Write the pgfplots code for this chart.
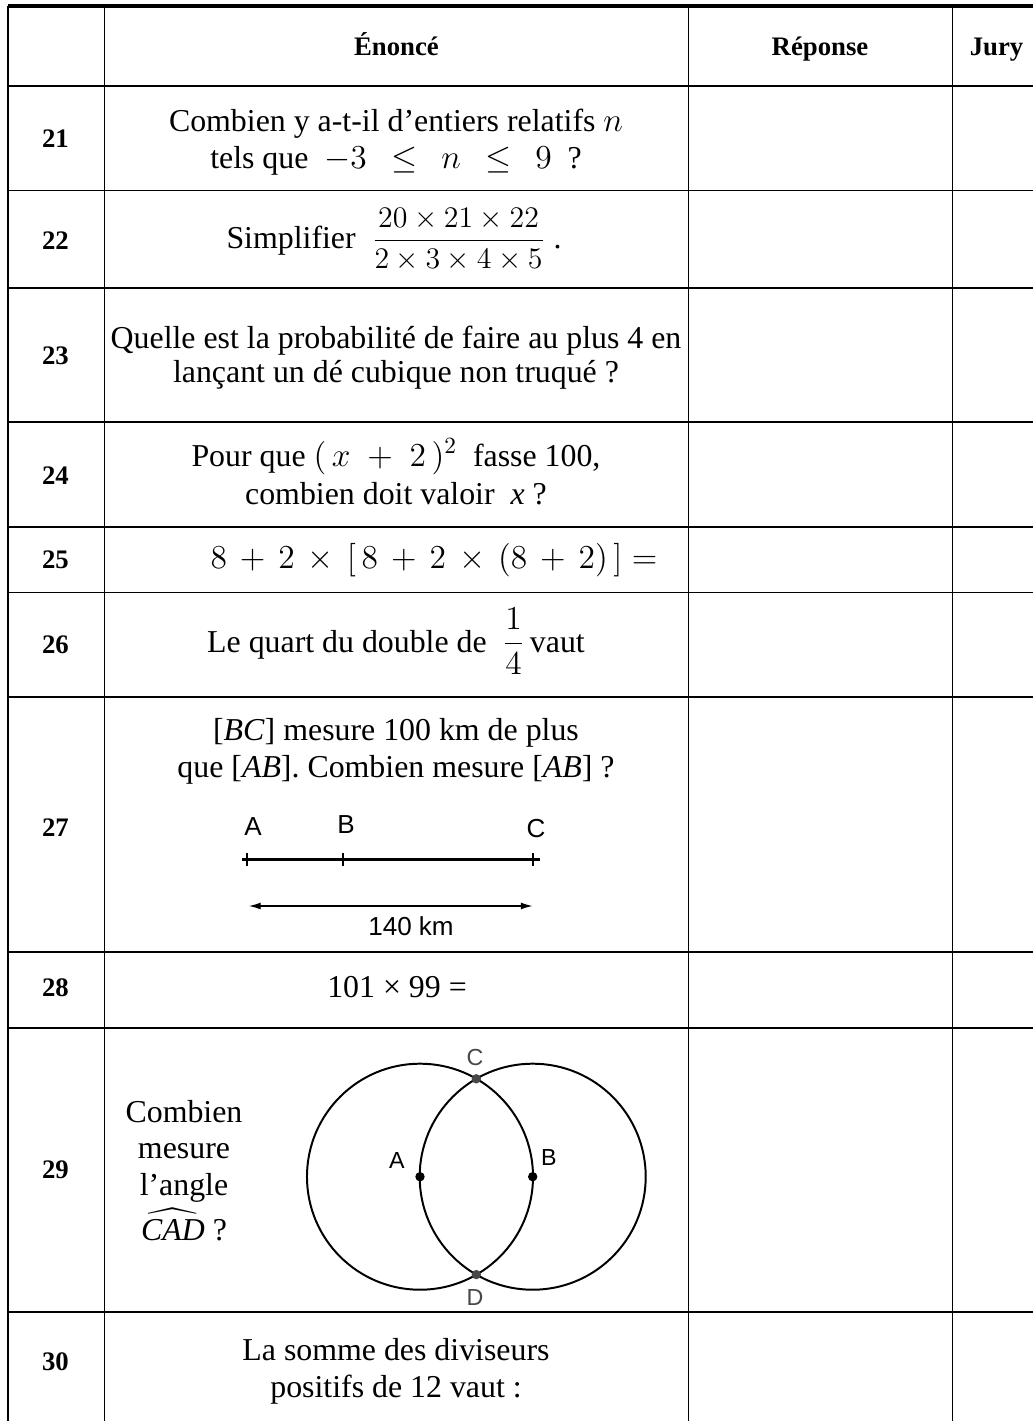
\documentclass[border=0pt]{standalone}
\usepackage{amsmath}
\usepackage{pgfplots}
\pgfplotsset{compat=1.18}
\usepackage{fontspec}
\setmainfont{Liberation Serif}
\newfontfamily\arial{Liberation Sans}
\usetikzlibrary{arrows.meta}

% 1 px of the reference = 0.43pt
\newcommand{\hd}{\fontsize{11.5}{13}\selectfont\bfseries}
\newcommand{\lab}{\arial\fontsize{11.2}{13}\selectfont}
\newcommand{\labc}{\arial\fontsize{10}{12}\selectfont}

\begin{document}
\fontsize{13.7}{16}\selectfont
\begin{tikzpicture}
\begin{axis}[
    hide axis,
    scale only axis,
    width=444.19pt, height=611.03pt,
    xmin=0, xmax=1033, ymin=0, ymax=1421,
    y dir=reverse,
    clip=false,
]
% table rules
\addplot[black, line width=1.4pt] coordinates {(7.5,6) (1033,6)};
\pgfplotsinvokeforeach{86,190.5,288,422,527,592.5,697,952,1028,1312}{
  \addplot[black, line width=0.85pt] coordinates {(7.6,#1) (1033,#1)};
}
\pgfplotsinvokeforeach{8,104.5,688.5,952.5}{
  \addplot[black, line width=0.85pt] coordinates {(#1,5.5) (#1,1421)};
}

% header
\node[anchor=base, font=\hd] at (396.5,55) {Énoncé};
\node[anchor=base, font=\hd] at (820,55) {Réponse};
\node[anchor=base, font=\hd] at (996.5,55) {Jury};

% row numbers
\node[font=\hd] at (55.5,139) {21};
\node[font=\hd] at (55.5,241) {22};
\node[font=\hd] at (55.5,356) {23};
\node[font=\hd] at (55.5,476) {24};
\node[font=\hd] at (55.5,560) {25};
\node[font=\hd] at (55.5,645) {26};
\node[font=\hd] at (55.5,828) {27};
\node[font=\hd] at (55.5,988) {28};
\node[font=\hd] at (55.5,1170) {29};
\node[font=\hd] at (55.5,1362) {30};

% 21
\node[anchor=base] at (396,131) {Combien y a-t-il d’entiers relatifs $n$};
\node[anchor=base] at (396,168) {tels que \ $-3\;\,\leq\;\,n\;\,\leq\;\,9$\ \ ?};
% 22
\node[anchor=base] at (394,248) {Simplifier \ {\fontsize{12}{14}\selectfont\scalebox{1.07}{$\dfrac{20\times21\times22}{2\times3\times4\times5}$}}\ .};
% 23
\node[anchor=base] at (396,348) {Quelle est la probabilité de faire au plus 4 en};
\node[anchor=base] at (396,382) {lançant un dé cubique non truqué ?};
% 24
\node[anchor=base] at (396,466) {Pour que $(\,x\;+\;2\,)^2$\ \ fasse 100,};
\node[anchor=base] at (396,504) {combien doit valoir \ \textit{x} ?};
% 25
\node[anchor=base] at (434,568) {$8\,+\,2\,\times\,[\,8\,+\,2\,\times\,(8\,+\,2)\,]=$};
% 26
\node[anchor=base] at (396,652) {Le quart du double de \ $\dfrac{1}{4}$\,vaut};
% 27
\node[anchor=base] at (396,740) {[\textit{BC}] mesure 100 km de plus};
\node[anchor=base] at (396,777) {que [\textit{AB}]. Combien mesure [\textit{AB}] ?};
\addplot[black, line width=1.3pt] coordinates {(242,859.3) (540,859.3)};
\addplot[black, only marks, mark=|, mark size=2.7pt, mark options={line width=1pt}]
  coordinates {(247,859.3) (343,859.3) (533,859.3)};
\addplot[black, line width=0.5pt, {Latex[length=5pt,width=3pt]}-{Latex[length=5pt,width=3pt]}]
  coordinates {(249,906) (532.5,906)};
\node[font=\lab] at (253,827) {A};
\node[font=\lab] at (346,825) {B};
\node[font=\lab] at (536,829) {C};
\node[font=\lab] at (411,926) {140 km};
% 28
\node[anchor=base] at (397,997) {101 × 99 =};
% 29
\node[anchor=base, inner sep=0pt] at (184,1122) {Combien};
\node[anchor=base, inner sep=0pt] at (184,1158) {mesure};
\node[anchor=base, inner sep=0pt, text depth=0pt] at (184,1195) {l’angle};
\node[anchor=base, inner sep=0pt] at (184,1240) {$\smash{\widehat{\mbox{\itshape CAD}}}$ ?};
\draw[black, line width=0.85pt] (420,1176.7) circle[radius=48.6pt];
\draw[black, line width=0.85pt] (532.7,1176.7) circle[radius=48.6pt];
\addplot[black, only marks, mark=*, mark size=1.8pt] coordinates {(420,1176.7) (532.7,1176.7)};
\addplot[black!72, only marks, mark=*, mark size=1.8pt, mark options={draw=black!72}]
  coordinates {(476.3,1078.8) (476.3,1274.6)};
\node[font=\labc] at (397,1160) {A};
\node[font=\labc] at (549,1157) {B};
\node[font=\labc, text=black!72] at (475,1057) {C};
\node[font=\labc, text=black!72] at (475,1297) {D};
% 30
\node[anchor=base] at (396,1360) {La somme des diviseurs};
\node[anchor=base] at (396,1397) {positifs de 12 vaut :};
\end{axis}
\pgfresetboundingbox
\path[use as bounding box] (current axis.south west) rectangle (current axis.north east);
\end{tikzpicture}
\end{document}
